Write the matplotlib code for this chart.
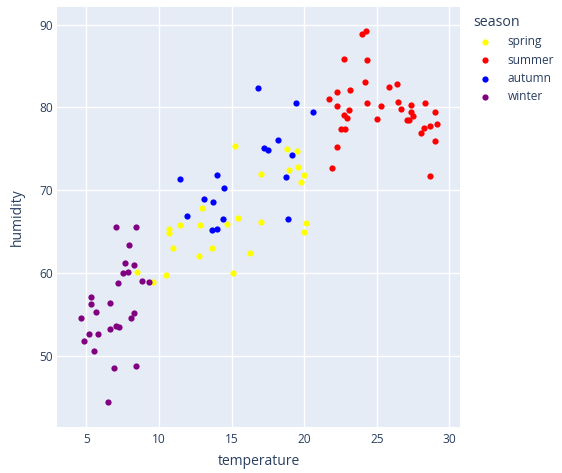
import matplotlib
matplotlib.use("Agg")
import matplotlib.pyplot as plt

# season -> (temperature, humidity)
spring_temp = [8.45, 9.6, 10.47, 10.67, 10.67, 10.94, 11.45, 12.81, 12.94, 12.76,
               13.63, 14.67, 15.13, 15.45, 15.27, 16.24, 17.01, 17.06, 18.79, 18.97,
               19.5, 19.61, 19.98, 19.79, 20.14, 19.98]
spring_hum = [60.1, 58.95, 59.7, 65.3, 64.76, 63.03, 65.77, 65.8, 67.8, 62.06,
              63.03, 65.9, 60.0, 66.67, 75.35, 62.34, 66.2, 71.95, 74.95, 72.4,
              74.7, 72.8, 71.85, 71.0, 66.06, 64.92]

summer_temp = [24.0, 24.26, 22.78, 24.35, 24.17, 25.85, 26.41, 23.15, 22.27, 21.71,
               22.29, 23.1, 24.33, 25.32, 26.5, 26.64, 27.38, 27.36, 27.47, 27.08,
               27.26, 28.35, 29.0, 29.16, 28.65, 28.24, 28.06, 29.02, 28.67, 22.73,
               22.96, 22.53, 22.85, 25.02, 22.29, 21.92]
summer_hum = [88.88, 89.2, 85.88, 85.76, 83.04, 82.52, 82.84, 82.08, 81.88, 81.0,
              80.2, 79.71, 80.55, 80.16, 80.6, 79.76, 80.24, 79.44, 78.92, 78.44,
              78.44, 80.48, 79.48, 77.96, 77.8, 77.48, 76.88, 75.99, 71.72, 79.08,
              78.72, 77.4, 77.4, 78.63, 75.2, 72.71]

autumn_temp = [16.83, 19.45, 20.58, 18.19, 17.22, 17.48, 19.13, 18.74, 11.43, 13.98,
               14.51, 13.13, 13.75, 11.96, 14.39, 13.68, 13.98, 18.9]
autumn_hum = [82.3, 80.5, 79.4, 76.1, 75.07, 74.9, 74.3, 71.55, 71.3, 71.8,
              70.3, 68.97, 68.6, 66.86, 66.46, 65.17, 65.3, 66.46]

winter_temp = [7.02, 8.42, 7.9, 7.66, 8.28, 7.5, 7.87, 7.14, 8.81, 9.32,
               5.34, 5.28, 6.59, 5.66, 4.59, 8.26, 8.06, 7.04, 7.25, 6.59,
               5.18, 5.78, 4.83, 5.55, 6.88, 8.4, 6.45]
winter_hum = [65.5, 65.6, 63.4, 61.25, 61.0, 59.95, 60.15, 58.8, 59.0, 58.85,
              57.1, 56.2, 56.3, 55.3, 54.5, 55.2, 54.5, 53.6, 53.5, 53.2,
              52.6, 52.6, 51.8, 50.5, 48.5, 48.75, 44.4]

seasons = ["spring", "summer", "autumn", "winter"]
colors = ["yellow", "red", "blue", "purple"]
temps = [spring_temp, summer_temp, autumn_temp, winter_temp]
hums = [spring_hum, summer_hum, autumn_hum, winter_hum]

text_color = "#2a3f5f"
W, H = 562, 473

plt.rcParams["font.family"] = ["Open Sans", "DejaVu Sans"]

fig = plt.figure(figsize=(W / 100, H / 100), dpi=100)
# plot area in pixels: x 57..460, y 7..427
ax = fig.add_axes([57 / W, (H - 427) / H, (460 - 57) / W, (427 - 7) / H])
ax.set_facecolor("#E5ECF6")

handles = []
for name, c, t, h in zip(seasons, colors, temps, hums):
    sc = ax.scatter(t, h, s=20, c=c, linewidths=0, label=name, zorder=3)
    handles.append(sc)

ax.set_xlim(2.97, 30.74)
ax.set_ylim(41.37, 92.13)
ax.set_xticks([5, 10, 15, 20, 25, 30])
ax.set_yticks([50, 60, 70, 80, 90])
ax.grid(True, color="white", linewidth=1)
ax.set_axisbelow(True)
for s in ax.spines.values():
    s.set_visible(False)
ax.tick_params(length=0, labelsize=8.6, labelcolor=text_color)
ax.tick_params(axis="x", pad=4)
ax.tick_params(axis="y", pad=3)

ax.set_xlabel("temperature", fontsize=10, color=text_color, labelpad=6)
ax.set_ylabel("humidity", fontsize=10, color=text_color, labelpad=10)

leg = fig.legend(handles=handles, labels=seasons, title="season",
                 loc="upper left", bbox_to_anchor=(462 / W, 1 - 4 / H),
                 frameon=False, fontsize=8.6, title_fontsize=10.3,
                 labelcolor=text_color, handletextpad=0.9,
                 labelspacing=0.45, alignment="left", markerscale=1.0)
leg.get_title().set_color(text_color)

fig.savefig("out.png", dpi=100)
